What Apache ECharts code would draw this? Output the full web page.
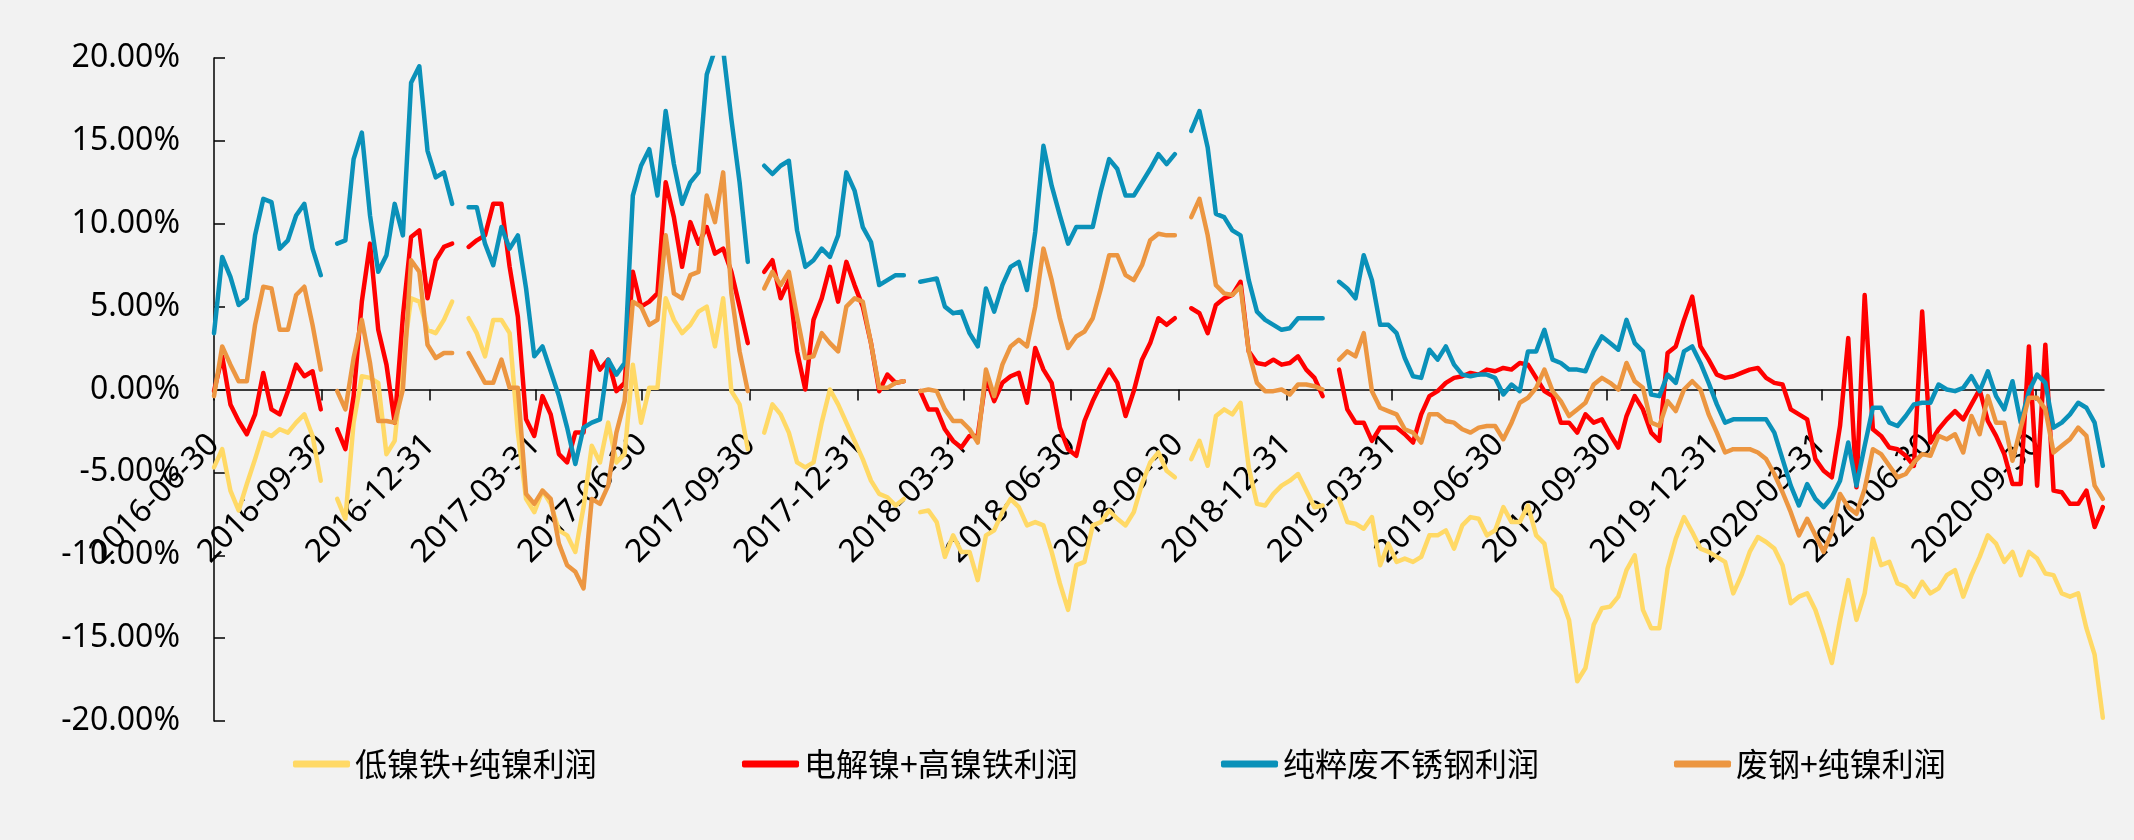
<!DOCTYPE html>
<html>
<head>
<meta charset="utf-8">
<title>镍利润对比</title>
<script src="https://cdn.jsdelivr.net/npm/echarts@6/dist/echarts.min.js"></script>
<style>
  html, body { margin: 0; padding: 0; background: #f2f2f2; }
  #chart { width: 2134px; height: 840px; }
</style>
</head>
<body>
<div id="chart"></div>
<script>
// Weekly samples starting on 2016-06-30
const startDate = '2016-06-30';
const stepDays = 7;
const endDate = '2020-11-27';

// Quarter-end tick labels
const tickLabels = [
  '2016-06-30','2016-09-30','2016-12-31','2017-03-31','2017-06-30','2017-09-30',
  '2017-12-31','2018-03-31','2018-06-30','2018-09-30','2018-12-31','2019-03-31',
  '2019-06-30','2019-09-30','2019-12-31','2020-03-31','2020-06-30','2020-09-30'
];

const seriesNames = ['低镍铁+纯镍利润', '电解镍+高镍铁利润', '纯粹废不锈钢利润', '废钢+纯镍利润'];

// Profit margins, % (null = no quote)
const lowNiPigPure = [
  -4.7,-3.6,-6.1,-7.3,-5.7,-4.2,-2.6,-2.8,-2.4,-2.6,
  -2.0,-1.5,-2.8,-5.5,null,-6.6,-7.8,-2.0,0.8,0.7,
  0.4,-3.9,-3.1,1.8,5.5,5.3,3.6,3.4,4.2,5.3,
  null,4.3,3.4,2.0,4.2,4.2,3.4,-2.6,-6.6,-7.4,
  -6.1,-6.9,-8.5,-8.8,-9.8,-7.1,-3.4,-4.4,-2.0,-4.4,
  -3.9,1.5,-2.0,0.1,0.1,5.5,4.2,3.4,3.9,4.7,
  5.0,2.6,5.5,-0.1,-0.9,-3.6,null,-2.6,-0.9,-1.5,
  -2.6,-4.4,-4.7,-4.4,-2.0,0.0,-0.9,-2.0,-3.1,-4.2,
  -5.5,-6.3,-6.5,-7.0,-6.6,null,-7.4,-7.3,-8.0,-10.1,
  -8.8,-9.8,-9.8,-11.5,-8.8,-8.5,-7.4,-6.6,-7.1,-8.2,
  -8.0,-8.2,-9.8,-11.7,-13.3,-10.6,-10.4,-8.2,-8.0,-7.3,
  -7.8,-8.2,-7.4,-5.7,-4.4,-3.8,-4.9,-5.3,null,-4.2,
  -3.1,-4.6,-1.6,-1.2,-1.5,-0.8,-4.7,-6.9,-7.0,-6.3,
  -5.8,-5.5,-5.1,-6.1,-7.1,-7.0,null,-6.6,-8.0,-8.1,
  -8.4,-7.7,-10.6,-9.3,-10.4,-10.2,-10.4,-10.1,-8.8,-8.8,
  -8.5,-9.6,-8.2,-7.7,-7.8,-8.8,-8.5,-7.1,-8.0,-8.0,
  -7.0,-8.8,-9.3,-12.0,-12.5,-13.9,-17.6,-16.8,-14.2,-13.2,
  -13.1,-12.5,-10.9,-10.0,-13.3,-14.4,-14.4,-10.8,-9.0,-7.7,
  -8.6,-9.6,-9.8,-10.1,-10.4,-12.3,-11.2,-9.8,-8.9,-9.2,
  -9.6,-10.6,-12.9,-12.5,-12.3,-13.3,-14.8,-16.5,-13.9,-11.5,
  -13.9,-12.3,-9.0,-10.6,-10.4,-11.7,-11.9,-12.5,-11.6,-12.3,
  -12.0,-11.2,-10.9,-12.5,-11.2,-10.1,-8.8,-9.3,-10.4,-9.8,
  -11.2,-9.8,-10.2,-11.1,-11.2,-12.3,-12.5,-12.3,-14.4,-16.0,
  -19.8
];

const electroNiHighFe = [
  -0.1,2.0,-0.9,-1.9,-2.7,-1.5,1.0,-1.2,-1.5,-0.1,
  1.5,0.8,1.1,-1.2,null,-2.4,-3.6,-0.4,5.3,8.8,
  3.6,1.5,-2.0,4.4,9.2,9.6,5.5,7.8,8.6,8.8,
  null,8.6,9.0,9.3,11.2,11.2,7.4,4.4,-1.8,-2.8,
  -0.4,-1.5,-3.9,-4.4,-2.6,-2.6,2.3,1.2,1.8,-0.1,
  0.4,7.1,5.0,5.3,5.8,12.5,10.4,7.4,10.1,8.8,
  9.8,8.2,8.5,7.1,5.0,2.8,null,7.1,7.8,5.5,
  6.6,2.3,0.0,4.2,5.5,7.4,5.3,7.7,6.3,5.0,
  2.8,-0.1,0.9,0.4,0.5,null,-0.1,-1.2,-1.2,-2.4,
  -3.1,-3.5,-2.8,-2.8,0.7,-0.7,0.4,0.8,1.0,-0.8,
  2.5,1.2,0.4,-2.3,-3.6,-4.0,-1.9,-0.7,0.3,1.2,
  0.4,-1.6,-0.1,1.8,2.8,4.3,3.9,4.3,null,4.9,
  4.6,3.4,5.1,5.5,5.7,6.5,2.3,1.6,1.5,1.8,
  1.5,1.6,2.0,1.2,0.7,-0.4,null,1.2,-1.2,-2.0,
  -2.0,-3.1,-2.3,-2.3,-2.3,-2.7,-3.2,-1.5,-0.4,-0.1,
  0.4,0.7,0.8,1.0,0.9,1.2,1.1,1.3,1.2,1.6,
  1.5,0.7,-0.1,-0.4,-2.0,-2.0,-2.6,-1.5,-2.0,-1.8,
  -2.7,-3.5,-1.6,-0.4,-1.2,-2.6,-3.1,2.2,2.6,4.2,
  5.6,2.6,1.8,0.9,0.7,0.8,1.0,1.2,1.3,0.7,
  0.4,0.3,-1.2,-1.5,-1.8,-4.2,-4.9,-5.3,-2.2,3.1,
  -5.9,5.7,-2.4,-2.8,-3.5,-3.6,-4.0,-4.6,4.7,-3.2,
  -2.4,-1.8,-1.3,-1.8,-0.9,0.0,-1.9,-2.8,-3.9,-5.7,
  -5.7,2.6,-5.8,2.7,-6.1,-6.2,-6.9,-6.9,-6.1,-8.3,
  -7.1
];

const pureScrapStainless = [
  3.4,8.0,6.8,5.1,5.5,9.3,11.5,11.3,8.5,9.0,
  10.5,11.2,8.5,6.9,null,8.8,9.0,13.9,15.5,10.5,
  7.1,8.1,11.2,9.3,18.5,19.5,14.4,12.8,13.1,11.2,
  null,11.0,11.0,8.8,7.5,9.8,8.5,9.3,6.1,2.0,
  2.6,1.1,-0.4,-2.3,-4.5,-2.3,-2.0,-1.8,1.8,0.9,
  1.6,11.7,13.5,14.5,11.7,16.8,13.6,11.2,12.5,13.1,
  19.0,20.5,20.5,16.3,12.5,7.7,null,13.5,13.0,13.5,
  13.8,9.6,7.4,7.8,8.5,8.0,9.3,13.1,12.0,9.8,
  8.9,6.3,6.6,6.9,6.9,null,6.5,6.6,6.7,5.0,
  4.6,4.7,3.4,2.6,6.1,4.7,6.3,7.4,7.7,6.0,
  9.5,14.7,12.3,10.5,8.8,9.8,9.8,9.8,12.0,13.9,
  13.3,11.7,11.7,12.5,13.3,14.2,13.6,14.2,null,15.6,
  16.8,14.6,10.6,10.4,9.6,9.3,6.6,4.7,4.2,3.9,
  3.6,3.7,4.3,4.3,4.3,4.3,null,6.5,6.1,5.5,
  8.1,6.6,3.9,3.9,3.4,1.9,0.8,0.7,2.4,1.8,
  2.6,1.5,0.9,0.8,0.9,0.9,0.7,-0.3,0.3,-0.1,
  2.3,2.3,3.6,1.8,1.6,1.2,1.2,1.1,2.3,3.2,
  2.8,2.4,4.2,2.8,2.3,-0.3,-0.4,0.9,0.4,2.3,
  2.6,1.6,0.4,-0.9,-2.0,-1.8,-1.8,-1.8,-1.8,-1.8,
  -2.6,-4.2,-5.8,-7.0,-5.7,-6.6,-7.1,-6.5,-5.5,-3.2,
  -5.8,-3.4,-1.1,-1.1,-2.0,-2.2,-1.6,-0.9,-0.8,-0.8,
  0.3,0.0,-0.1,0.1,0.8,-0.1,1.1,-0.4,-1.2,0.5,
  -2.0,-0.1,0.9,0.4,-2.3,-2.0,-1.5,-0.8,-1.1,-2.0,
  -4.6
];

const scrapSteelPureNi = [
  -0.4,2.6,1.5,0.5,0.5,3.9,6.2,6.1,3.6,3.6,
  5.7,6.2,3.9,1.2,null,-0.1,-1.2,1.9,4.2,1.6,
  -1.9,-1.9,-2.0,0.0,7.8,7.1,2.7,1.9,2.2,2.2,
  null,2.2,1.3,0.4,0.4,1.8,0.1,0.1,-6.3,-6.9,
  -6.1,-6.6,-9.3,-10.6,-11.0,-12.0,-6.6,-6.9,-5.8,-2.6,
  -0.7,5.3,5.0,3.9,4.2,9.3,5.8,5.5,6.9,7.1,
  11.7,10.1,13.1,5.8,2.3,-0.1,null,6.1,7.1,6.3,
  7.1,4.4,1.9,2.0,3.4,2.8,2.3,5.0,5.5,5.3,
  2.8,0.1,0.1,0.4,0.5,null,-0.1,0.0,-0.1,-1.2,
  -1.9,-1.9,-2.4,-3.2,1.2,-0.4,1.5,2.6,3.0,2.6,
  5.0,8.5,6.6,4.3,2.5,3.2,3.5,4.3,6.1,8.1,
  8.1,6.9,6.6,7.5,9.0,9.4,9.3,9.3,null,10.4,
  11.5,9.3,6.3,5.8,5.7,6.2,2.3,0.4,-0.1,-0.1,
  0.0,-0.3,0.3,0.3,0.2,0.0,null,1.8,2.3,2.0,
  3.4,-0.1,-1.1,-1.3,-1.5,-2.4,-2.6,-3.2,-1.5,-1.5,
  -1.9,-2.0,-2.4,-2.6,-2.3,-2.2,-2.2,-3.0,-2.0,-0.8,
  -0.5,0.1,1.2,-0.1,-0.7,-1.6,-1.2,-0.8,0.3,0.7,
  0.4,0.0,1.6,0.5,0.1,-2.0,-2.2,-0.7,-1.3,0.0,
  0.5,0.0,-1.5,-2.6,-3.8,-3.6,-3.6,-3.6,-3.8,-4.2,
  -5.1,-6.2,-7.4,-8.8,-7.8,-8.8,-9.8,-8.6,-6.3,-7.1,
  -7.5,-6.0,-3.6,-3.9,-4.6,-5.3,-5.1,-4.4,-3.9,-4.0,
  -2.8,-3.0,-2.7,-3.8,-1.6,-2.7,-0.4,-2.0,-2.0,-4.3,
  -2.3,-0.5,-0.5,-1.2,-3.8,-3.4,-3.0,-2.3,-2.8,-5.8,
  -6.6
];

const seriesColors = ['#FFD966', '#FF0000', '#0A91B9', '#EC9641'];
const legendLefts = [293, 742, 1221, 1674];

const DAY = 86400000;
function toTs(s) {
  const p = s.split('-').map(Number);
  return Date.UTC(p[0], p[1] - 1, p[2]);
}
function pad(n) { return n < 10 ? '0' + n : '' + n; }
const t0 = toTs(startDate);
// day offset from the first sample -> yyyy-MM-dd
function dayToLabel(dayOffset) {
  const d = new Date(t0 + Math.round(dayOffset) * DAY);
  return d.getUTCFullYear() + '-' + pad(d.getUTCMonth() + 1) + '-' + pad(d.getUTCDate());
}
function toDay(s) { return Math.round((toTs(s) - t0) / DAY); }

const sampleDays = lowNiPigPure.map((_, i) => i * stepDays);
const tickDays = tickLabels.map(toDay);
const valueSets = [lowNiPigPure, electroNiHighFe, pureScrapStainless, scrapSteelPureNi];

// plot box
const gridTop = 58, gridBottom = 119, chartH = 840;
const yMin = -20, yMax = 20;
// the date axis sits on the 0% line: shift it up from the bottom edge
const plotH = chartH - gridTop - gridBottom;
const zeroShift = -plotH * (0 - yMin) / (yMax - yMin);

const chart = echarts.init(document.getElementById('chart'), null, { renderer: 'canvas' });

chart.setOption({
  backgroundColor: '#f2f2f2',
  animation: false,
  textStyle: { fontFamily: 'Noto Sans, "Noto Sans CJK SC", sans-serif', color: '#000' },
  grid: { left: 214, right: 30, top: gridTop, bottom: gridBottom, containLabel: false, outerBoundsMode: 'none' },
  legend: seriesNames.map((name, k) => ({
    data: [name],
    left: legendLefts[k],
    top: 748,
    padding: 0,
    icon: 'roundRect',
    itemWidth: 57,
    itemHeight: 7,
    selectedMode: false,
    textStyle: { fontFamily: '"Noto Sans CJK SC", sans-serif', fontSize: 32, color: '#000' }
  })),
  xAxis: {
    type: 'value',
    min: 0,
    max: toDay(endDate),
    offset: zeroShift,
    axisLine: { onZero: false, lineStyle: { color: '#000', width: 1.5 } },
    axisTick: { show: true, length: 11, customValues: tickDays, lineStyle: { color: '#000', width: 1.5 } },
    axisLabel: {
      customValues: tickDays,
      rotate: 45,
      margin: 50,
      fontSize: 32,
      fontFamily: 'Noto Sans',
      color: '#000',
      formatter: (v) => dayToLabel(v)
    },
    splitLine: { show: false }
  },
  yAxis: {
    type: 'value',
    min: yMin,
    max: yMax,
    interval: 5,
    axisLine: { show: true, lineStyle: { color: '#000', width: 1.5 } },
    axisTick: { show: true, inside: true, length: 11, lineStyle: { color: '#000', width: 1.5 } },
    axisLabel: {
      margin: 34,
      fontSize: 32,
      fontFamily: 'Noto Sans',
      color: '#000',
      formatter: (v) => v.toFixed(2) + '%'
    },
    splitLine: { show: false }
  },
  series: seriesNames.map((name, k) => ({
    name: name,
    type: 'line',
    data: sampleDays.map((d, i) => [d, valueSets[k][i] === null ? '-' : valueSets[k][i]]),
    showSymbol: false,
    symbol: 'none',
    connectNulls: false,
    clip: true,
    color: seriesColors[k],
    lineStyle: { width: 4.5, color: seriesColors[k], cap: 'round', join: 'round' },
    emphasis: { disabled: true }
  }))
});
</script>
</body>
</html>
